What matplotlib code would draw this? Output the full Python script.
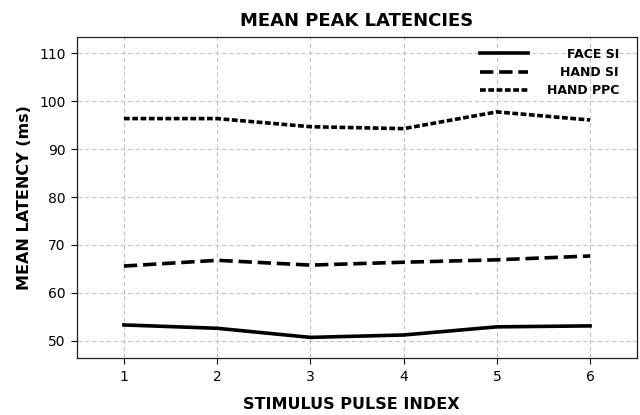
import numpy as np
import matplotlib
matplotlib.use("Agg")
import matplotlib.pyplot as plt

# valores
pulse = [1, 2, 3, 4, 5, 6]
face_si = [53.3, 52.6, 50.7, 51.2, 52.9, 53.1]
hand_si = [65.6, 66.8, 65.8, 66.4, 66.9, 67.7]
hand_ppc = [96.4, 96.4, 94.7, 94.3, 97.8, 96.1]
series_labels = ["FACE SI", "HAND SI", "HAND PPC"]

plt.rcParams['font.family'] = ['DejaVu Sans']

fig = plt.figure(figsize=(6.4, 4.15), dpi=100)
ax = fig.add_axes([0.1208, 0.138, 0.874, 0.7735])

ax.plot(pulse, face_si, color='black', lw=2.6, ls='-', label=series_labels[0])
ax.plot(pulse, hand_si, color='black', lw=2.6, ls='--', label=series_labels[1])
ax.plot(pulse, hand_ppc, color='black', lw=2.6, ls=(0, (1.6, 0.7)), label=series_labels[2])

ax.set_xlim(0.5, 6.5)
ax.set_ylim(46.45, 113.5)
ax.set_xticks(pulse)
ax.set_yticks(np.arange(50, 111, 10))
ax.grid(True, color='#c4c4c4', ls=(0, (4, 2.5)), lw=0.8)
ax.set_axisbelow(True)
ax.tick_params(labelsize=10, length=4.5, width=0.8, pad=4)
for s in ax.spines.values():
    s.set_linewidth(0.9)
    s.set_color('#222222')

ax.set_title('MEAN PEAK LATENCIES', fontsize=13, fontweight='bold', pad=8)
ax.set_xlabel('STIMULUS PULSE INDEX', fontsize=11.5, fontweight='bold')
ax.set_ylabel('MEAN LATENCY (ms)', fontsize=11.5, fontweight='bold')
ax.xaxis.set_label_coords(0.49, -0.122)
ax.yaxis.set_label_coords(-0.081, 0.5)

leg = ax.legend(loc='upper left', bbox_to_anchor=(0.72, 0.966), frameon=False,
                prop={'weight': 'bold', 'size': 9}, handlelength=3.85,
                handletextpad=0.8, labelspacing=0.43, borderpad=0, borderaxespad=0)

# textos de la leyenda alineados a la derecha
fig.canvas.draw()
H = fig.bbox.height
for t in leg.get_texts():
    bb = t.get_window_extent()
    label = t.get_text()
    t.set_text('')
    fig.text(619 / 640, bb.y0 / H, label, ha='right', va='bottom',
             fontsize=9, fontweight='bold')

fig.savefig('out.png', dpi=100)
